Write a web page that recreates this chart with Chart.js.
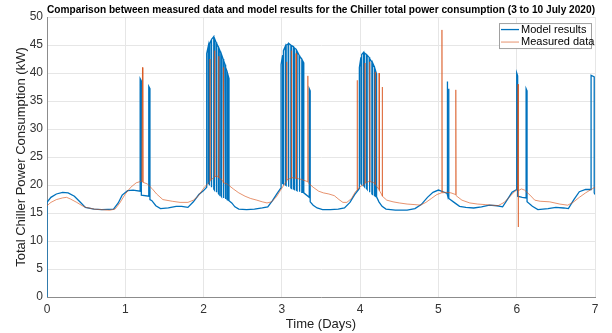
<!DOCTYPE html>
<html>
<head>
<meta charset="utf-8">
<script src="https://cdn.jsdelivr.net/npm/chart.js@4.4.1/dist/chart.umd.min.js"></script>
<style>
  html, body { margin: 0; padding: 0; background: #fff; }
  #wrap { width: 612px; height: 333px; }
</style>
</head>
<body>
<div id="wrap"><canvas id="power-chart" width="612" height="333"></canvas></div>
<script>
// Model results (days, kW)
const modelDays = [
  0, 0, 0.05, 0.12, 0.2, 0.27, 0.35, 0.42, 0.49, 0.6, 0.7, 0.85, 0.91, 0.96, 1.03, 1.1, 1.19,
  1.19, 1.205, 1.205, 1.3, 1.3, 1.315, 1.315, 1.34,
  1.39, 1.45, 1.55, 1.65, 1.72, 1.8, 1.87, 1.94, 2.0,
  2.04, 2.04, 2.06, 2.06, 2.075, 2.075, 2.095, 2.095, 2.105, 2.105, 2.13, 2.13, 2.14, 2.14, 2.16, 2.16,
  2.17, 2.17, 2.19, 2.19, 2.2, 2.2, 2.22, 2.22, 2.23, 2.23, 2.25, 2.25, 2.26, 2.26, 2.275, 2.275,
  2.285, 2.285, 2.3, 2.3, 2.315, 2.315, 2.325, 2.325,
  2.36, 2.4, 2.45, 2.55, 2.65, 2.75, 2.82, 2.88, 2.94, 2.98,
  2.99, 2.99, 3.01, 3.01, 3.02, 3.02, 3.045, 3.045, 3.055, 3.055, 3.08, 3.08, 3.09, 3.09, 3.115, 3.115,
  3.125, 3.125, 3.15, 3.15, 3.16, 3.16, 3.185, 3.185, 3.195, 3.195, 3.22, 3.22, 3.23, 3.23, 3.255, 3.255,
  3.265, 3.265, 3.28, 3.28,
  3.35, 3.35, 3.362, 3.362,
  3.4, 3.45, 3.52, 3.62, 3.72, 3.8, 3.87, 3.93, 3.98,
  3.99, 3.99, 4.01, 4.01, 4.02, 4.02, 4.045, 4.045, 4.055, 4.055, 4.08, 4.08, 4.09, 4.09, 4.115, 4.115,
  4.125, 4.125, 4.15, 4.15, 4.16, 4.16, 4.185, 4.185, 4.195, 4.195, 4.21, 4.21,
  4.24, 4.28, 4.33, 4.45, 4.6, 4.7, 4.78, 4.86, 4.93, 5.0, 5.06, 5.11,
  5.11, 5.118, 5.118, 5.127, 5.127, 5.135, 5.135,
  5.2, 5.27, 5.35, 5.45, 5.55, 5.65, 5.75, 5.82, 5.88, 5.94, 6.0,
  6.0, 6.012, 6.012, 6.07, 6.12, 6.12, 6.132, 6.132,
  6.2, 6.27, 6.4, 6.5, 6.6, 6.66, 6.73, 6.8, 6.88, 6.95,
  6.95, 6.99, 6.99, 7.0
];
const modelKW = [
  0, 16.9, 17.8, 18.4, 18.7, 18.6, 18.0, 17.0, 16.0, 15.7, 15.6, 15.7, 16.8, 18.2, 19.0, 19.1, 18.9,
  39.0, 38.6, 18.2, 18.0, 37.6, 37.2, 17.4, 17.2,
  16.3, 15.8, 15.9, 16.2, 16.2, 16.0, 17.0, 18.3, 19.0,
  19.6, 43.5, 44.8, 20.3, 20.1, 45.3, 45.8, 19.8, 19.6, 46.0, 46.5, 19.3, 19.1, 46.2, 45.5, 18.9,
  18.7, 45.3, 44.6, 18.5, 18.3, 44.3, 43.6, 18.1, 17.9, 43.3, 42.5, 17.8, 17.7, 42.2, 41.5, 17.6,
  17.5, 41.0, 40.3, 17.4, 17.3, 39.5, 39.0, 17.2,
  16.8, 16.1, 15.7, 15.6, 15.7, 15.9, 16.1, 17.2, 18.5, 19.3,
  19.5, 41.5, 43.2, 20.3, 20.2, 44.0, 44.8, 20.0, 19.9, 45.0, 45.2, 19.8, 19.7, 45.3, 45.0, 19.5,
  19.4, 44.9, 44.7, 19.3, 19.2, 44.5, 44.2, 19.1, 19.0, 43.9, 43.2, 18.9, 18.8, 43.0, 42.5, 18.7,
  18.7, 42.2, 41.8, 18.6,
  17.8, 37.2, 36.8, 17.0,
  16.4, 15.9, 15.6, 15.6, 15.7, 15.9, 16.9, 18.3, 19.2,
  19.4, 41.0, 42.8, 20.3, 20.1, 43.3, 43.7, 19.9, 19.7, 43.6, 43.3, 19.4, 19.2, 43.2, 42.8, 18.9,
  18.7, 42.6, 42.0, 18.4, 18.3, 41.8, 41.0, 18.1, 18.0, 40.5, 39.8, 17.9,
  17.0, 16.2, 15.7, 15.5, 15.5, 15.8, 16.5, 17.8, 18.7, 19.1, 18.8, 18.5,
  38.5, 38.0, 18.2, 18.1, 37.2, 36.8, 17.6,
  16.9, 16.2, 16.0, 15.9, 16.1, 16.4, 16.3, 16.1, 17.4, 18.7, 19.2,
  40.0, 39.5, 18.0, 17.8, 17.7, 37.2, 36.8, 17.0,
  16.2, 15.6, 15.8, 16.0, 15.9, 15.8, 17.4, 18.8, 19.2, 19.2,
  39.6, 39.3, 18.6, 18.3
];

// Measured data (days, kW)
const measuredDays = [
  0, 0.05, 0.12, 0.2, 0.25, 0.3, 0.38, 0.45, 0.5, 0.6, 0.7, 0.8, 0.87, 0.93, 1.0, 1.07, 1.14, 1.21,
  1.22, 1.225,
  1.28, 1.34, 1.4, 1.48, 1.6, 1.7, 1.8, 1.87, 1.93, 2.0, 2.05,
  2.08, 2.082, 2.086, 2.1, 2.14, 2.142, 2.146, 2.17, 2.19, 2.192, 2.196, 2.22, 2.25, 2.252, 2.256,
  2.3, 2.38, 2.45, 2.53, 2.6, 2.68, 2.75, 2.81, 2.87, 2.93, 2.98, 3.03,
  3.06, 3.062, 3.066, 3.09, 3.12, 3.122, 3.126, 3.15, 3.18, 3.182, 3.186, 3.25, 3.33, 3.332, 3.336,
  3.4, 3.47, 3.53, 3.6, 3.67, 3.73, 3.78, 3.83, 3.89, 3.94,
  3.96, 3.962, 3.966, 4.0, 4.06, 4.062, 4.066, 4.1, 4.12, 4.122, 4.126, 4.16, 4.19, 4.192, 4.196,
  4.24, 4.242, 4.246, 4.28, 4.282, 4.286,
  4.34, 4.42, 4.5, 4.6, 4.7, 4.77, 4.84, 4.91, 4.98, 5.04,
  5.045, 5.049, 5.1, 5.16, 5.22, 5.222, 5.226,
  5.3, 5.4, 5.5, 5.6, 5.68, 5.76, 5.84, 5.91, 5.97, 6.01,
  6.018, 6.02, 6.022,
  6.06, 6.1, 6.17, 6.23, 6.3, 6.42, 6.55, 6.65, 6.72, 6.8, 6.88, 6.95, 7.0
];
const measuredKW = [
  16.3, 16.9, 17.4, 17.7, 17.8, 17.5, 16.9, 16.3, 16.0, 15.7, 15.6, 15.5, 15.7, 16.8, 18.4, 19.6, 20.4, 20.7,
  41.0, 20.5,
  20.2, 19.4, 18.4, 17.4, 17.1, 16.9, 16.9, 17.3, 18.0, 19.4, 20.2,
  20.6, 42.5, 20.8, 21.0, 21.4, 44.0, 21.5, 21.6, 21.5, 43.0, 21.3, 21.1, 20.6, 41.0, 20.4,
  20.2, 19.3, 18.6, 18.0, 17.6, 17.3, 17.0, 16.8, 17.0, 17.9, 19.0, 20.1,
  20.7, 42.0, 20.9, 21.1, 21.2, 44.0, 21.3, 21.3, 21.2, 43.5, 21.2, 21.0, 20.6, 39.5, 20.4,
  19.6, 18.9, 18.6, 18.4, 18.1, 17.4, 16.9, 16.9, 17.6, 18.8,
  19.1, 38.7, 19.2, 19.7, 20.2, 41.8, 20.4, 20.6, 20.6, 42.0, 20.6, 20.5, 20.3, 40.2, 20.1,
  19.2, 40.0, 19.0, 18.2, 37.5, 18.0,
  17.3, 17.0, 16.8, 16.6, 16.5, 16.4, 16.9, 17.6, 18.3, 18.6,
  47.7, 18.6, 18.7, 18.6, 18.3, 37.0, 18.1,
  17.3, 16.8, 16.6, 16.5, 16.4, 16.3, 16.9, 17.9, 18.8, 19.2,
  38.0, 12.5, 19.0,
  19.3, 19.1, 18.2, 17.3, 17.1, 17.0, 16.6, 16.4, 16.9, 17.8, 18.6, 19.2, 19.6
];

const seriesNames = ['Model results', 'Measured data'];
const seriesColors = ['#0072BD', 'rgba(217,83,25,0.7)'];
const dayTicks = [0, 1, 2, 3, 4, 5, 6, 7];
const kwTicks = [0, 5, 10, 15, 20, 25, 30, 35, 40, 45, 50];

function toPoints(xs, ys) {
  return xs.map((x, i) => ({ x: x, y: ys[i] }));
}

// boxed legend in the top right corner, like the original figure
const boxLegend = {
  id: 'boxLegend',
  afterDraw(chart) {
    const c = chart.ctx;
    const area = chart.chartArea;
    const x0 = area.right - 96, y0 = area.top + 6, w = 92, h = 25;
    c.save();
    c.fillStyle = '#fff';
    c.fillRect(x0, y0, w, h);
    c.strokeStyle = '#a0a0a0';
    c.lineWidth = 1;
    c.strokeRect(x0 + 0.5, y0 + 0.5, w, h);
    c.font = '11px "Liberation Sans", Arial, sans-serif';
    c.textBaseline = 'middle';
    chart.data.datasets.forEach((ds, i) => {
      const yy = y0 + 6.5 + i * 12.5;
      c.strokeStyle = ds.borderColor;
      c.lineWidth = ds.borderWidth;
      c.beginPath();
      c.moveTo(x0 + 2, yy);
      c.lineTo(x0 + 20, yy);
      c.stroke();
      c.fillStyle = '#000';
      c.fillText(ds.label, x0 + 22, yy);
    });
    c.restore();
  }
};

const ctx = document.getElementById('power-chart').getContext('2d');
new Chart(ctx, {
  type: 'line',
  data: {
    datasets: [{
      label: seriesNames[0],
      data: toPoints(modelDays, modelKW),
      borderColor: seriesColors[0],
      backgroundColor: seriesColors[0],
      borderWidth: 1.3,
      pointRadius: 0,
      tension: 0,
      fill: false,
      order: 1
    }, {
      label: seriesNames[1],
      data: toPoints(measuredDays, measuredKW),
      borderColor: seriesColors[1],
      backgroundColor: seriesColors[1],
      borderWidth: 0.9,
      pointRadius: 0,
      tension: 0,
      fill: false,
      order: 0
    }]
  },
  options: {
    responsive: false,
    maintainAspectRatio: false,
    animation: false,
    layout: { padding: { top: 0, right: 17, bottom: 0, left: 0 } },
    plugins: {
      legend: { display: false },
      tooltip: { enabled: false },
      title: {
        display: true,
        fullSize: false,
        text: 'Comparison between measured data and model results for the Chiller total power consumption (3 to 10 July 2020)',
        color: '#000',
        font: { family: '"Liberation Sans", Arial, sans-serif', size: 11.3, weight: 'bold', lineHeight: 1.2 },
        padding: { top: 3, bottom: 0.5 }
      }
    },
    scales: {
      x: {
        type: 'linear',
        min: 0,
        max: 7,
        afterBuildTicks(scale) { scale.ticks = dayTicks.map(v => ({ value: v })); },
        afterFit(scale) { scale.height = 36; },
        grid: { color: '#e6e6e6', drawTicks: false },
        border: { display: true, color: '#8c8c8c' },
        ticks: {
          color: '#333',
          padding: 5,
          maxRotation: 0,
          font: { family: '"Liberation Sans", Arial, sans-serif', size: 12 }
        },
        title: {
          display: true,
          text: 'Time (Days)',
          color: '#222',
          font: { family: '"Liberation Sans", Arial, sans-serif', size: 13, lineHeight: 1.2 },
          padding: { top: 0, bottom: 1 }
        }
      },
      y: {
        type: 'linear',
        min: 0,
        max: 50,
        afterBuildTicks(scale) { scale.ticks = kwTicks.map(v => ({ value: v })); },
        afterFit(scale) { scale.width = 47; },
        grid: { color: '#e6e6e6', drawTicks: false },
        border: { display: true, color: '#8c8c8c' },
        ticks: {
          color: '#333',
          padding: 4,
          font: { family: '"Liberation Sans", Arial, sans-serif', size: 12 }
        },
        title: {
          display: true,
          text: 'Total Chiller Power Consumption (kW)',
          color: '#222',
          font: { family: '"Liberation Sans", Arial, sans-serif', size: 13, lineHeight: 1.2 },
          padding: { top: 14, bottom: 0 }
        }
      }
    }
  },
  plugins: [boxLegend]
});
</script>
</body>
</html>
